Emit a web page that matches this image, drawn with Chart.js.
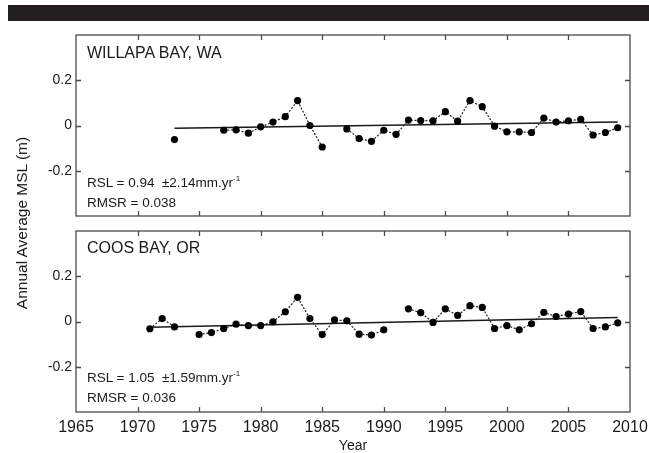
<!DOCTYPE html>
<html>
<head>
<meta charset="utf-8">
<script src="https://cdn.jsdelivr.net/npm/chart.js@4.4.1/dist/chart.umd.min.js"></script>
<style>
  html, body { margin: 0; padding: 0; background: #fff; }
  #wrap { position: relative; width: 649px; height: 453px; overflow: hidden; font-family: "Liberation Sans", Arial, Helvetica, sans-serif; color: #1a1a1a; }
  #bar { position: absolute; left: 8px; top: 5px; width: 641px; height: 16px; background: #231f20; }
  canvas { position: absolute; left: 0; }
  .lbl { position: absolute; white-space: nowrap; }
  .title { font-size: 16px; line-height: 16px; }
  .stat { font-size: 13.5px; line-height: 13.5px; }
  .stat sup { font-size: 8px; vertical-align: 6px; line-height: 0; }
  #ytitle { position: absolute; left: -128px; top: 215px; width: 300px; text-align: center; font-size: 15.5px; line-height: 16px; transform: rotate(-90deg); transform-origin: 150px 8px; }
  #xtitle { position: absolute; left: 253px; top: 438px; width: 200px; text-align: center; font-size: 14px; line-height: 14px; }
</style>
</head>
<body>
<div id="wrap">
  <div id="bar"></div>
  <canvas id="c1" width="649" height="230" style="top:0px"></canvas>
  <canvas id="c2" width="649" height="237" style="top:216px"></canvas>
  <div class="lbl title" style="left:87px; top:44.5px;">WILLAPA BAY, WA</div>
  <div class="lbl stat" style="left:87px; top:176px;">RSL = 0.94&nbsp; ±2.14mm.yr<sup>-1</sup></div>
  <div class="lbl stat" style="left:87px; top:196px;">RMSR = 0.038</div>
  <div class="lbl title" style="left:87px; top:240px;">COOS BAY, OR</div>
  <div class="lbl stat" style="left:87px; top:371px;">RSL = 1.05&nbsp; ±1.59mm.yr<sup>-1</sup></div>
  <div class="lbl stat" style="left:87px; top:391px;">RMSR = 0.036</div>
  <div id="ytitle">Annual Average MSL (m)</div>
  <div id="xtitle">Year</div>
</div>
<script>
// ---- data ----
const years = [1971, 1972, 1973, 1974, 1975, 1976, 1977, 1978, 1979, 1980,
               1981, 1982, 1983, 1984, 1985, 1986, 1987, 1988, 1989, 1990,
               1991, 1992, 1993, 1994, 1995, 1996, 1997, 1998, 1999, 2000,
               2001, 2002, 2003, 2004, 2005, 2006, 2007, 2008, 2009];
const willapaMSL = [null, null, -0.062, null, null, null, -0.021, -0.019, -0.034, -0.006,
                    0.015, 0.039, 0.110, 0.000, -0.095, null, -0.015, -0.058, -0.070, -0.021,
                    -0.039, 0.024, 0.022, 0.021, 0.061, 0.019, 0.110, 0.083, -0.003, -0.028,
                    -0.028, -0.031, 0.033, 0.015, 0.021, 0.027, -0.042, -0.031, -0.010];
const coosMSL = [-0.032, 0.013, -0.024, null, -0.058, -0.049, -0.031, -0.012, -0.018, -0.018,
                 -0.001, 0.043, 0.107, 0.013, -0.058, 0.007, 0.003, -0.056, -0.060, -0.037,
                 null, 0.056, 0.039, -0.004, 0.056, 0.027, 0.070, 0.062, -0.031, -0.018,
                 -0.037, -0.010, 0.040, 0.022, 0.033, 0.044, -0.031, -0.024, -0.006];
const willapaTrendYears = [1973, 2009];
const willapaTrend = [-0.012, 0.015];
const coosTrendYears = [1971, 2009];
const coosTrend = [-0.025, 0.018];
const xTickValues = [1965, 1970, 1975, 1980, 1985, 1990, 1995, 2000, 2005, 2010];
const xTickLabels = ['1965', '1970', '1975', '1980', '1985', '1990', '1995', '2000', '2005', '2010'];
const yTickValues = [-0.2, 0, 0.2];
const yTickLabels = ['-0.2', '0', '0.2'];

// ---- drawing ----
const FONT = '"Liberation Sans", Arial, Helvetica, sans-serif';
const toXY = (xs, ys) => xs.map((x, i) => ({ x: x, y: ys[i] }));

const framePlugin = {
  id: 'frame',
  afterDraw(chart) {
    const { ctx, chartArea: a, scales } = chart;
    const x = scales.x, y = scales.y;
    ctx.save();
    ctx.strokeStyle = '#4a4a4a';
    ctx.lineWidth = 1.3;
    ctx.strokeRect(a.left, a.top, a.right - a.left, a.bottom - a.top);
    ctx.beginPath();
    const L = 5;
    xTickValues.forEach(v => {
      if (v <= x.min || v >= x.max) return;
      const px = Math.round(x.getPixelForValue(v)) + 0.5;
      ctx.moveTo(px, a.top); ctx.lineTo(px, a.top + L);
      ctx.moveTo(px, a.bottom); ctx.lineTo(px, a.bottom - L);
    });
    yTickValues.forEach(v => {
      const py = Math.round(y.getPixelForValue(v)) + 0.5;
      ctx.moveTo(a.left, py); ctx.lineTo(a.left + L, py);
      ctx.moveTo(a.right, py); ctx.lineTo(a.right - L, py);
    });
    ctx.stroke();
    ctx.restore();
  }
};

function makeChart(id, vals, tYears, tVals, showX, pad, xHeight) {
  return new Chart(document.getElementById(id), {
    type: 'line',
    data: {
      datasets: [
        {
          data: toXY(years, vals),
          borderColor: '#222',
          borderWidth: 1.2,
          borderDash: [2, 1.6],
          pointRadius: 3.6,
          pointBackgroundColor: '#000',
          pointBorderWidth: 0,
          spanGaps: false,
          tension: 0
        },
        {
          data: toXY(tYears, tVals),
          borderColor: '#1a1a1a',
          borderWidth: 1.5,
          pointRadius: 0,
          tension: 0
        }
      ]
    },
    options: {
      responsive: false,
      animation: false,
      devicePixelRatio: 1,
      events: [],
      layout: { padding: pad },
      plugins: { legend: { display: false }, tooltip: { enabled: false }, title: { display: false } },
      scales: {
        x: {
          type: 'linear',
          min: 1965, max: 2010,
          display: showX,
          afterBuildTicks: s => { s.ticks = xTickValues.map(v => ({ value: v })); },
          afterFit: s => { s.height = xHeight; s.paddingLeft = 0; s.paddingRight = 0; },
          grid: { display: false, drawTicks: false },
          border: { display: false },
          ticks: {
            padding: 6,
            color: '#1a1a1a',
            font: { family: FONT, size: 16 },
            maxRotation: 0,
            autoSkip: false,
            callback: (v) => { const i = xTickValues.indexOf(v); return i >= 0 ? xTickLabels[i] : ''; }
          }
        },
        y: {
          type: 'linear',
          min: -0.4, max: 0.4,
          afterBuildTicks: s => { s.ticks = yTickValues.map(v => ({ value: v })); },
          afterFit: s => { s.width = 76; s.paddingTop = 0; s.paddingBottom = 0; },
          grid: { display: false, drawTicks: false },
          border: { display: false },
          ticks: {
            padding: 4,
            color: '#1a1a1a',
            font: { family: FONT, size: 14 },
            callback: (v) => { const i = yTickValues.findIndex(t => Math.abs(t - v) < 1e-9); return i >= 0 ? yTickLabels[i] : ''; }
          }
        }
      }
    },
    plugins: [framePlugin]
  });
}

makeChart('c1', willapaMSL, willapaTrendYears, willapaTrend, false, { top: 35, bottom: 14, left: 0, right: 19 }, 0);
makeChart('c2', coosMSL, coosTrendYears, coosTrend, true, { top: 15, bottom: 0, left: 0, right: 19 }, 41);
</script>
</body>
</html>
